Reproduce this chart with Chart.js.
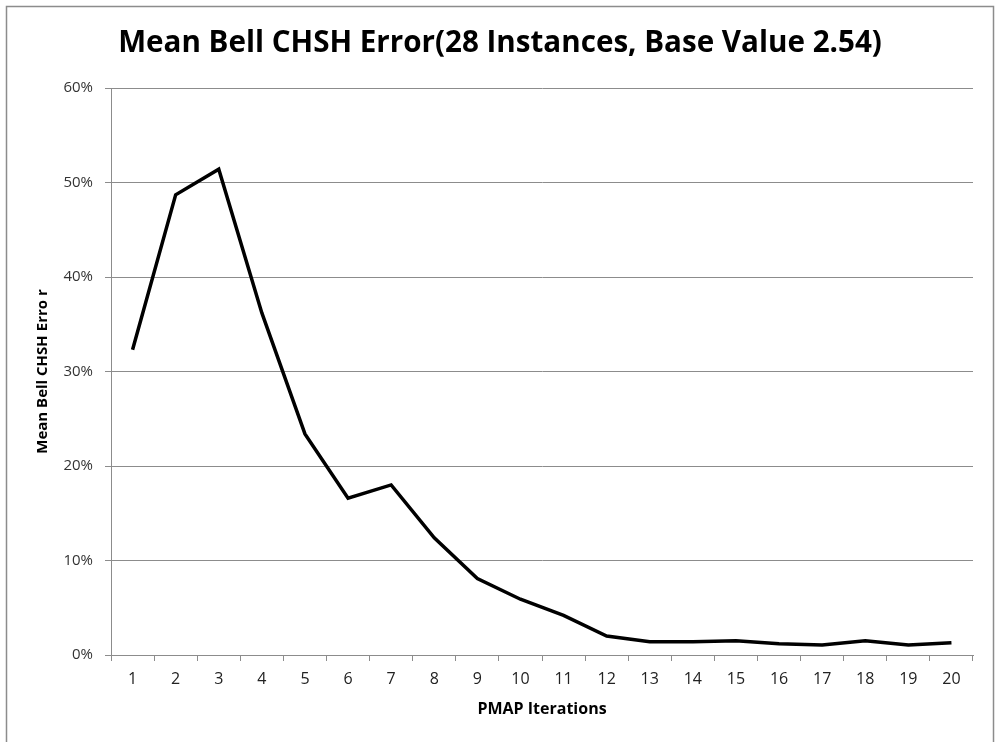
<!DOCTYPE html>
<html>
<head>
<meta charset="utf-8">
<title>Mean Bell CHSH Error</title>
<script src="https://cdn.jsdelivr.net/npm/chart.js@4.4.0/dist/chart.umd.min.js"></script>
<style>
    body { margin: 0; background: #ffffff; }
    canvas { display: block; }
</style>
</head>
<body>
<canvas id="graficoErro" width="997" height="742"></canvas>
<script>
// Dados
const iteracoes = ['1', '2', '3', '4', '5', '6', '7', '8', '9', '10',
                   '11', '12', '13', '14', '15', '16', '17', '18', '19', '20'];

// erro medio em %
const erroMedio = [32.3, 48.7, 51.4, 36.2, 23.4, 16.6, 18.0, 12.4, 8.1, 5.9,
                   4.2, 2.0, 1.4, 1.4, 1.5, 1.2, 1.05, 1.5, 1.05, 1.3];

const ticksY = [0, 10, 20, 30, 40, 50, 60];

const titulo = 'Mean Bell CHSH Error(28 Instances, Base Value 2.54)';
const tituloEixoX = 'PMAP Iterations';
const tituloEixoY = 'Mean Bell CHSH Erro r';

const cinza = '#8c8c8c';

// moldura e titulo desenhados a mao
const pluginMoldura = {
    id: 'moldura',
    beforeDraw(chart) {
        const ctx = chart.ctx;
        ctx.save();
        ctx.fillStyle = '#ffffff';
        ctx.fillRect(0, 0, chart.width, chart.height);
        ctx.strokeStyle = cinza;
        ctx.lineWidth = 1.5;
        ctx.strokeRect(6.5, 6.5, 987, 760);
        ctx.restore();
    },
    afterDraw(chart) {
        const ctx = chart.ctx;
        ctx.save();
        let tamanho = 30;
        ctx.font = `bold ${tamanho}px "Open Sans"`;
        const largura = ctx.measureText(titulo).width;
        tamanho = tamanho * 764 / largura;
        ctx.font = `bold ${tamanho}px "Open Sans"`;
        ctx.fillStyle = '#000000';
        ctx.textAlign = 'center';
        ctx.textBaseline = 'middle';
        ctx.fillText(titulo, 500, 44);
        ctx.restore();
    }
};

const dados = {
    labels: iteracoes,
    datasets: [
        {
            label: 'Erro',
            data: erroMedio,
            borderColor: '#000000',
            borderWidth: 3.5,
            pointRadius: 0,
            tension: 0,
            fill: false
        }
    ]
};

const config = {
    type: 'line',
    data: dados,
    plugins: [pluginMoldura],
    options: {
        responsive: false,
        animation: false,
        devicePixelRatio: 1,
        layout: {
            padding: { top: 88, right: 24, left: 0, bottom: 0 }
        },
        plugins: {
            legend: { display: false },
            tooltip: { enabled: false }
        },
        scales: {
            x: {
                type: 'category',
                offset: true,
                afterFit(scale) { scale.height = 87; },
                grid: {
                    offset: true,
                    drawOnChartArea: false,
                    drawTicks: true,
                    tickLength: 6,
                    color: cinza
                },
                border: { color: cinza, width: 1 },
                ticks: {
                    padding: 9,
                    maxRotation: 0,
                    color: '#222222',
                    font: { family: 'Open Sans', size: 16 }
                },
                title: {
                    display: true,
                    text: tituloEixoX,
                    color: '#000000',
                    padding: { top: 0, bottom: 23 },
                    font: { family: 'Open Sans', size: 16, weight: 'bold' }
                }
            },
            y: {
                min: 0,
                max: 60,
                afterFit(scale) { scale.width = 111; },
                afterBuildTicks(scale) {
                    scale.ticks = ticksY.map(v => ({ value: v }));
                },
                grid: {
                    color: cinza,
                    lineWidth: 1,
                    drawTicks: true,
                    tickLength: 6
                },
                border: { color: cinza, width: 1 },
                ticks: {
                    padding: 12,
                    color: '#333333',
                    font: { family: 'Open Sans', size: 15 },
                    callback: (v) => v + '%'
                },
                title: {
                    display: true,
                    text: tituloEixoY,
                    color: '#000000',
                    padding: { top: 34, bottom: 0 },
                    font: { family: 'Open Sans', size: 15, weight: 'bold' }
                }
            }
        }
    }
};

const contexto = document.getElementById('graficoErro').getContext('2d');
const grafico = new Chart(contexto, config);
</script>
</body>
</html>
